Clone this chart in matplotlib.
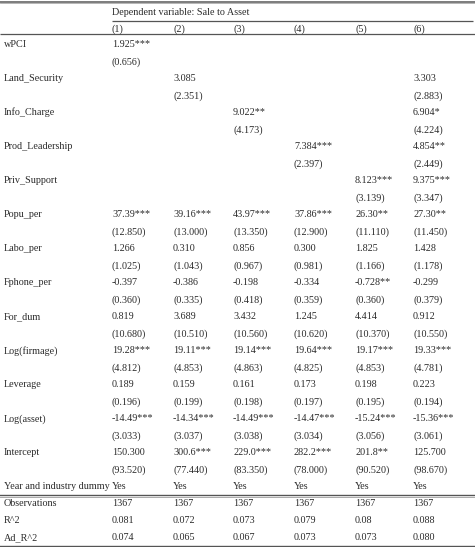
import matplotlib.pyplot as plt

# Regression table: Sale to Asset
variables = ['wPCI', 'Land_Security', 'Info_Charge', 'Prod_Leadership', 'Priv_Support',
             'Popu_per', 'Labo_per', 'Fphone_per', 'For_dum', 'Log(firmage)',
             'Leverage', 'Log(asset)', 'Intercept']

coefs = [
    ['1.925***', '', '', '', '', ''],
    ['', '3.085', '', '', '', '3.303'],
    ['', '', '9.022**', '', '', '6.904*'],
    ['', '', '', '7.384***', '', '4.854**'],
    ['', '', '', '', '8.123***', '9.375***'],
    ['37.39***', '39.16***', '43.97***', '37.86***', '26.30**', '27.30**'],
    ['1.266', '0.310', '0.856', '0.300', '1.825', '1.428'],
    ['-0.397', '-0.386', '-0.198', '-0.334', '-0.728**', '-0.299'],
    ['0.819', '3.689', '3.432', '1.245', '4.414', '0.912'],
    ['19.28***', '19.11***', '19.14***', '19.64***', '19.17***', '19.33***'],
    ['0.189', '0.159', '0.161', '0.173', '0.198', '0.223'],
    ['-14.49***', '-14.34***', '-14.49***', '-14.47***', '-15.24***', '-15.36***'],
    ['150.300', '300.6***', '229.0***', '282.2***', '201.8**', '125.700'],
]

ses = [
    ['(0.656)', '', '', '', '', ''],
    ['', '(2.351)', '', '', '', '(2.883)'],
    ['', '', '(4.173)', '', '', '(4.224)'],
    ['', '', '', '(2.397)', '', '(2.449)'],
    ['', '', '', '', '(3.139)', '(3.347)'],
    ['(12.850)', '(13.000)', '(13.350)', '(12.900)', '(11.110)', '(11.450)'],
    ['(1.025)', '(1.043)', '(0.967)', '(0.981)', '(1.166)', '(1.178)'],
    ['(0.360)', '(0.335)', '(0.418)', '(0.359)', '(0.360)', '(0.379)'],
    ['(10.680)', '(10.510)', '(10.560)', '(10.620)', '(10.370)', '(10.550)'],
    ['(4.812)', '(4.853)', '(4.863)', '(4.825)', '(4.853)', '(4.781)'],
    ['(0.196)', '(0.199)', '(0.198)', '(0.197)', '(0.195)', '(0.194)'],
    ['(3.033)', '(3.037)', '(3.038)', '(3.034)', '(3.056)', '(3.061)'],
    ['(93.520)', '(77.440)', '(83.350)', '(78.000)', '(90.520)', '(98.670)'],
]

dummy_row = ['Yes', 'Yes', 'Yes', 'Yes', 'Yes', 'Yes']
observations = ['1367', '1367', '1367', '1367', '1367', '1367']
r2 = ['0.081', '0.072', '0.073', '0.079', '0.08', '0.088']
adj_r2 = ['0.074', '0.065', '0.067', '0.073', '0.073', '0.080']

col_heads = ['(1)', '(2)', '(3)', '(4)', '(5)', '(6)']
dep_title = 'Dependent variable: Sale to Asset'

# layout in pixel units
W, H = 475, 547
col_x = [112, 173, 233, 294, 355, 413]
label_x = 4
row0 = 44
step = 17.0
txt_color = '#2b2b2b'
fs = 7.3
base_off = 3.4

fig = plt.figure(figsize=(W / 100, H / 100), dpi=100)
ax = fig.add_axes([0, 0, 1, 1])
ax.set_xlim(0, W)
ax.set_ylim(H, 0)
ax.axis('off')

def put(x, y, s):
    ax.text(x, y + base_off, s, fontsize=fs, family='Liberation Serif', color=txt_color,
            ha='left', va='baseline')

# header
put(col_x[0], 12, dep_title)
for x, h in zip(col_x, col_heads):
    put(x, 28, h)

# body
for i, name in enumerate(variables):
    y = row0 + 2 * i * step
    put(label_x, y, name)
    for x, c, s in zip(col_x, coefs[i], ses[i]):
        if c:
            put(x, y, c)
        if s:
            put(x, y + step, s)

y_dummy = row0 + 2 * len(variables) * step
put(label_x, y_dummy, 'Year and industry dummy')
for x, v in zip(col_x, dummy_row):
    put(x, y_dummy, v)

stats = [('Observations', observations), ('R^2', r2), ('Ad_R^2', adj_r2)]
for k, (name, vals) in enumerate(stats):
    y = y_dummy + (k + 1) * step
    put(label_x, y, name)
    for x, v in zip(col_x, vals):
        put(x, y, v)

# rules
line_kw = dict(color='#555555', lw=0.9, solid_capstyle='butt')
ax.plot([0, W], [2.2, 2.2], color='#666666', lw=1.2)
ax.plot([0, W], [3.4, 3.4], color='#aaaaaa', lw=0.6)
ax.plot([col_x[0], W - 2], [20.5, 20.5], **line_kw)
ax.plot([0, W], [34, 34], **line_kw)
y_mid = y_dummy + step / 2 + 0.5
ax.plot([0, W], [y_mid, y_mid], color='#555555', lw=1.0)
ax.plot([0, W], [y_mid + 1.5, y_mid + 1.5], color='#aaaaaa', lw=0.7)
y_bot = y_dummy + 3.5 * step + 0.5
ax.plot([0, W], [y_bot, y_bot], color='#555555', lw=1.0)
ax.plot([0, W], [y_bot + 1.5, y_bot + 1.5], color='#aaaaaa', lw=0.7)

fig.savefig('out.png', dpi=100)
